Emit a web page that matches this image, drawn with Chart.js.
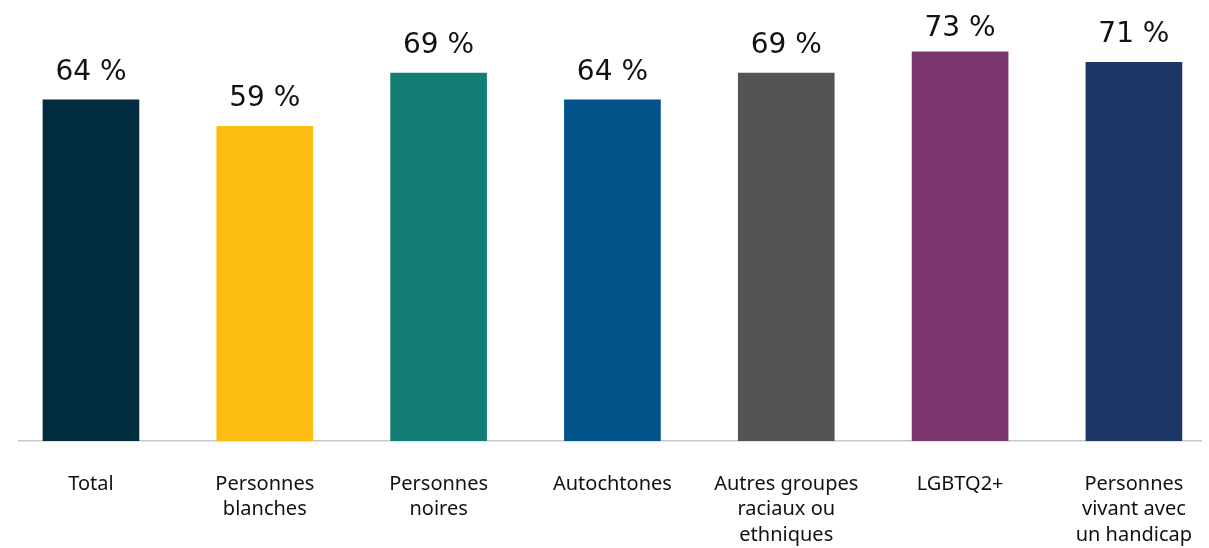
<!DOCTYPE html>
<html><head><meta charset="utf-8">
<script src="https://cdn.jsdelivr.net/npm/chart.js@4/dist/chart.umd.min.js"></script>
<style>html,body{margin:0;padding:0;background:#fff}</style>
</head><body>
<canvas id="c" width="1209" height="548"></canvas>
<script>
const categories = [
  ["Total"],
  ["Personnes", "blanches"],
  ["Personnes", "noires"],
  ["Autochtones"],
  ["Autres groupes", "raciaux ou", "ethniques"],
  ["LGBTQ2+"],
  ["Personnes", "vivant avec", "un handicap"]
];
const values = [64, 59, 69, 64, 69, 73, 71];
const valueLabels = ["64 %", "59 %", "69 %", "64 %", "69 %", "73 %", "71 %"];
const barColors = ["#022d3e", "#fdbc12", "#137e76", "#01538a", "#545454", "#7a346e", "#1c3766"];

const dataLabels = {
  id: 'dataLabels',
  afterDatasetsDraw(chart) {
    const ctx = chart.ctx;
    const meta = chart.getDatasetMeta(0);
    ctx.save();
    ctx.font = '28px "DejaVu Sans"';
    ctx.fillStyle = '#111';
    ctx.textAlign = 'center';
    ctx.textBaseline = 'alphabetic';
    meta.data.forEach((bar, i) => {
      const y = Math.max(bar.y - 20, 36);
      ctx.fillText(valueLabels[i], bar.x, y);
    });
    ctx.restore();
  }
};

new Chart(document.getElementById('c'), {
  type: 'bar',
  data: {
    datasets: [{
      data: values.map((v, i) => ({ x: i, y: v })),
      backgroundColor: barColors,
      barThickness: 96,
      borderWidth: 0
    }]
  },
  options: {
    responsive: false,
    animation: false,
    layout: { padding: { left: 19, right: 8, top: 0, bottom: 0 } },
    plugins: { legend: { display: false }, tooltip: { enabled: false } },
    scales: {
      x: {
        type: 'linear',
        offset: false,
        min: -0.414,
        max: 6.386,
        afterBuildTicks(scale) {
          scale.ticks = categories.map((_, i) => ({ value: i }));
        },
        afterFit(scale) {
          scale.height = 107;
          scale.paddingLeft = 0;
          scale.paddingRight = 0;
        },
        grid: { display: false, drawTicks: false },
        border: { display: true, color: '#c8c8c8', width: 1.5 },
        ticks: {
          padding: 30,
          maxRotation: 0,
          autoSkip: false,
          color: '#111',
          font: { family: '"Noto Sans"', size: 20, lineHeight: 1.28 },
          callback: (v) => categories[v]
        }
      },
      y: {
        display: false,
        min: 0,
        max: 82.7
      }
    }
  },
  plugins: [dataLabels]
});
</script>
</body></html>
